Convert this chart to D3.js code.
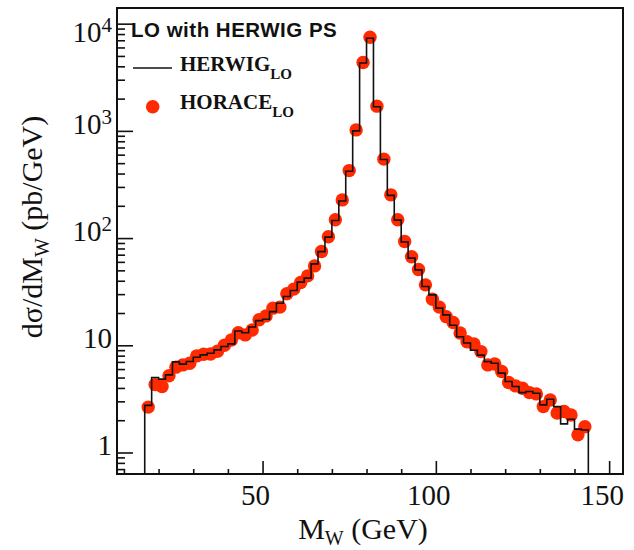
<!DOCTYPE html>
<html>
<head>
<meta charset="utf-8">
<script src="https://cdn.jsdelivr.net/npm/d3@7"></script>
<style>
  body { margin: 0; background: #fff; }
  text { fill: #111; }
</style>
</head>
<body>
<script>
// W mass spectrum, 2 GeV bins from 16 to 144 GeV
var binLow = [16, 18, 20, 22, 24, 26, 28, 30, 32, 34, 36, 38, 40, 42, 44, 46,
              48, 50, 52, 54, 56, 58, 60, 62, 64, 66, 68, 70, 72, 74, 76, 78,
              80, 82, 84, 86, 88, 90, 92, 94, 96, 98, 100, 102, 104, 106, 108, 110,
              112, 114, 116, 118, 120, 122, 124, 126, 128, 130, 132, 134, 136, 138, 140, 142];
var binWidth = 2;

// HERWIG LO histogram (pb/GeV)
var herwig = [2.75, 5.0, 4.83, 5.3, 7.0, 6.67, 7.05, 7.74, 8.13, 8.44, 9.06, 9.73, 10.3, 13.6, 13.1, 14.8,
              17.0, 17.5, 20.6, 24.7, 28.5, 32.4, 38.8, 42.3, 57.4, 74.8, 102, 146, 222, 420, 1000, 4300,
              7300, 1680, 540, 250, 147, 92, 65, 50.5, 35.4, 29.5, 22.2, 19.2, 15.4, 12.0, 10.5, 9.0,
              8.1, 7.04, 6.8, 5.5, 4.6, 4.12, 3.62, 3.7, 3.57, 2.78, 3.14, 2.68, 1.85, 2.04, 1.65, 1.62];

// HORACE LO points (pb/GeV)
var horace = [2.65, 4.3, 4.12, 5.2, 6.25, 6.56, 6.8, 7.96, 8.26, 8.3, 8.8, 10.0, 11.2, 13.1, 12.5, 13.9,
              17.3, 18.8, 22.2, 22.7, 30.2, 33.4, 38.5, 44.4, 55, 75, 103, 148, 227, 426, 1021, 4340,
              7480, 1700, 545, 253, 148, 92.8, 67, 51, 36.6, 26.9, 22.7, 18.5, 16.3, 13.0, 10.8, 10.3,
              8.73, 6.56, 6.7, 5.69, 4.49, 4.18, 3.97, 3.62, 3.52, 2.68, 3.09, 2.33, 2.41, 2.24, 1.46, 1.74];

var xMajor = [50, 100, 150];
var xMinor = [10, 20, 30, 40, 60, 70, 80, 90, 110, 120, 130, 140];
var yMajor = [1, 10, 100, 1000, 10000];
var yLabels = [["1", ""], ["10", ""], ["10", "2"], ["10", "3"], ["10", "4"]];

var width = 634, height = 550;
var plot = {left: 117, right: 623, top: 8, bottom: 474};
var serif = "'Liberation Serif', 'Times New Roman', serif";
var sans = "'Liberation Sans', Arial, sans-serif";
var red = "#ff2a00";

var svg = d3.select("body").append("svg")
    .attr("width", width)
    .attr("height", height);

var x = d3.scaleLinear().domain([8, 154]).range([plot.left, plot.right]);
var y = d3.scaleLog().domain([0.63, 14000]).range([plot.bottom, plot.top]);

// minor log ticks 2..9 in every decade inside the range
var yMinor = [];
[0.1, 1, 10, 100, 1000].forEach(function(d) {
    for (var k = 2; k <= 9; k++) {
        var v = d * k;
        if (v >= y.domain()[0] && v <= y.domain()[1]) yMinor.push(v);
    }
});

function drawTicks(axis, vals, size) {
    var g = svg.append("g").call(axis.tickValues(vals).tickSize(-size).tickFormat(""));
    g.select(".domain").remove();
    g.selectAll("line").attr("stroke", "#111").attr("stroke-width", 1.6);
    return g;
}

var xg = function() { return d3.axisBottom(x); };
var yg = function() { return d3.axisLeft(y); };

drawTicks(xg(), xMinor, 5).attr("transform", "translate(0," + plot.bottom + ")");
drawTicks(xg(), xMajor, 13).attr("transform", "translate(0," + plot.bottom + ")");
drawTicks(yg(), yMinor, 8).attr("transform", "translate(" + plot.left + ",0)");
drawTicks(yg(), yMajor, 16).attr("transform", "translate(" + plot.left + ",0)");

// HORACE markers below the histogram line
svg.append("g").selectAll("circle")
    .data(horace)
    .enter()
        .append("circle")
        .attr("cx", function(d, i) { return x(binLow[i] + binWidth / 2); })
        .attr("cy", function(d) { return y(d); })
        .attr("r", 6.7)
        .attr("fill", red);

// HERWIG step histogram, closed down to the axis at both ends
var steps = [[binLow[0], y.domain()[0]]];
herwig.forEach(function(v, i) { steps.push([binLow[i], v]); });
var lastEdge = binLow[binLow.length - 1] + binWidth;
steps.push([lastEdge, herwig[herwig.length - 1]]);
steps.push([lastEdge, y.domain()[0]]);

var line = d3.line()
    .x(function(d) { return x(d[0]); })
    .y(function(d) { return y(d[1]); })
    .curve(d3.curveStepAfter);

svg.append("path")
    .attr("d", line(steps))
    .attr("fill", "none")
    .attr("stroke", "#111")
    .attr("stroke-width", 1.6);

// frame
svg.append("rect")
    .attr("x", plot.left)
    .attr("y", plot.top)
    .attr("width", plot.right - plot.left)
    .attr("height", plot.bottom - plot.top)
    .attr("fill", "none")
    .attr("stroke", "#111")
    .attr("stroke-width", 2);

// x tick labels
svg.append("g").selectAll("text")
    .data(xMajor)
    .enter()
        .append("text")
        .attr("x", function(d) { return x(d) - 7; })
        .attr("y", 505)
        .attr("text-anchor", "middle")
        .style("font-family", serif)
        .style("font-size", "29px")
        .text(function(d) { return d; });

// y tick labels with superscript exponents; the top one is kept inside the frame
var ylab = svg.append("g").selectAll("text")
    .data(yMajor)
    .enter()
        .append("text")
        .attr("x", 112)
        .attr("y", function(d) { return Math.max(y(d) + 3, plot.top + 34); })
        .attr("text-anchor", "end")
        .style("font-family", serif)
        .style("font-size", "29px");
ylab.append("tspan").text(function(d, i) { return yLabels[i][0]; });
ylab.append("tspan")
    .attr("dy", -10)
    .style("font-size", "21px")
    .text(function(d, i) { return yLabels[i][1]; });

// axis titles
var xt = svg.append("text")
    .attr("x", 363)
    .attr("y", 539)
    .attr("text-anchor", "middle")
    .style("font-family", serif)
    .style("font-size", "30px");
xt.append("tspan").text("M");
xt.append("tspan").attr("dy", 6).style("font-size", "20px").text("W");
xt.append("tspan").attr("dy", -6).text(" (GeV)");

var yt = svg.append("text")
    .attr("transform", "translate(42,227) rotate(-90)")
    .attr("text-anchor", "middle")
    .style("font-family", serif)
    .style("font-size", "30px");
yt.append("tspan").text("d\u03c3/dM");
yt.append("tspan").attr("dy", 7).style("font-size", "20px").text("W");
yt.append("tspan").attr("dy", -7).text(" (pb/GeV)");

// legend
svg.append("text")
    .attr("x", 131)
    .attr("y", 37)
    .style("font-family", sans)
    .style("font-weight", "bold")
    .style("font-size", "20.5px")
    .style("letter-spacing", "0.5px")
    .text("LO with HERWIG PS");

svg.append("line")
    .attr("x1", 133).attr("x2", 172)
    .attr("y1", 68).attr("y2", 68)
    .attr("stroke", "#111")
    .attr("stroke-width", 1.6);

svg.append("circle")
    .attr("cx", 152.7)
    .attr("cy", 106.7)
    .attr("r", 6.8)
    .attr("fill", red);

var legendNames = [["HERWIG", 71], ["HORACE", 109]];
legendNames.forEach(function(n) {
    var t = svg.append("text")
        .attr("x", 180)
        .attr("y", n[1])
        .style("font-family", serif)
        .style("font-weight", "bold")
        .style("font-size", "21px");
    t.append("tspan").text(n[0]);
    t.append("tspan").attr("dy", 8).style("font-size", "15px").text("LO");
});
</script>
</body>
</html>
